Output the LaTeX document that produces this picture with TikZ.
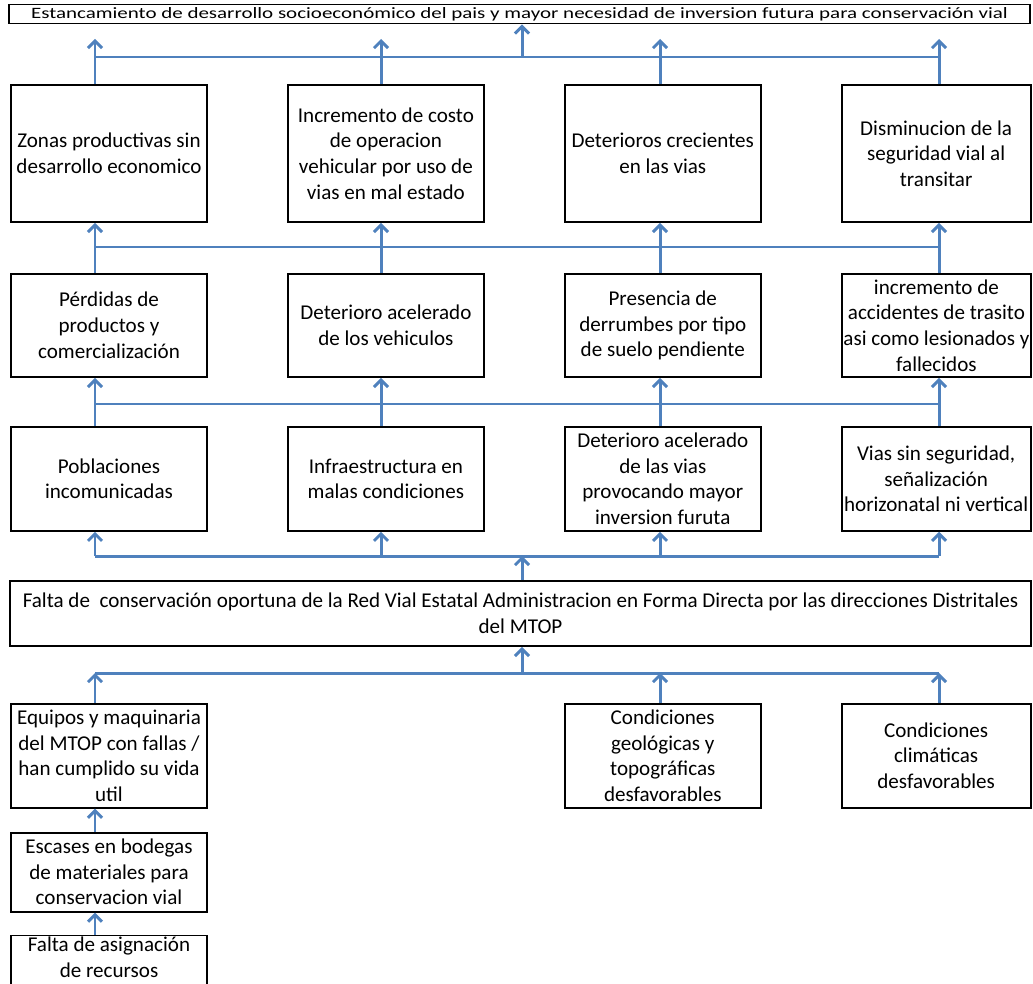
\documentclass[tikz,border=0pt]{standalone}
\usepackage{fontspec}
\usepackage{graphicx}
\setmainfont{Carlito}
\usetikzlibrary{positioning, arrows.meta}
\definecolor{azul}{RGB}{79,129,189}

\tikzset{
    caja/.style={draw, line width=1.1pt, align=center, inner sep=1pt,
        minimum width=3.92cm, font=\fontsize{12}{14.6}\selectfont},
    linea/.style={draw=azul, line width=1.7pt},
    flecha/.style={linea, -{Straight Barb[length=4pt,width=8pt]}}
}

\begin{document}
\begin{tikzpicture}[x=0.02cm, y=-0.02cm, node distance=1cm and 1.58cm]
    \clip (0,0) rectangle (1033,983);

    % efecto final
    \node[caja, minimum width=20.42cm, minimum height=0.38cm, inner sep=0pt,
        font=\fontsize{9}{10}\selectfont] (e) at (519.5,14)
        {\resizebox{19.54cm}{\height}{Estancamiento de desarrollo socioeconómico del pais y mayor necesidad de inversion futura para conservación vial}};

    % efectos
    \node[caja, minimum height=2.74cm] (z1) at (109,153.5) {Zonas productivas sin\\desarrollo economico};
    \node[caja, minimum height=2.74cm] (z2) [right=of z1] {Incremento de costo\\de operacion\\vehicular por uso de\\vias en mal estado};
    \node[caja, minimum height=2.74cm] (z3) [right=of z2] {Deterioros crecientes\\en las vias};
    \node[caja, minimum height=2.74cm, minimum width=3.78cm] (z4) [right=of z3] {Disminucion de la\\seguridad vial al\\transitar};

    \node[caja, minimum height=2.06cm] (p1) [below=of z1] {Pérdidas de\\productos y\\comercialización};
    \node[caja, minimum height=2.06cm] (p2) [right=of p1] {Deterioro acelerado\\de los vehiculos};
    \node[caja, minimum height=2.06cm] (p3) [right=of p2] {Presencia de\\derrumbes por tipo\\de suelo pendiente};
    \node[caja, minimum height=2.06cm, minimum width=3.78cm] (p4) [right=of p3] {incremento de\\accidentes de trasito\\asi como lesionados y\\fallecidos};

    \node[caja, minimum height=2.08cm] (q1) [below=0.96cm of p1] {Poblaciones\\incomunicadas};
    \node[caja, minimum height=2.08cm] (q2) [right=of q1] {Infraestructura en\\malas condiciones};
    \node[caja, minimum height=2.08cm] (q3) [right=of q2] {Deterioro acelerado\\de las vias\\provocando mayor\\inversion furuta};
    \node[caja, minimum height=2.08cm, minimum width=3.78cm] (q4) [right=of q3] {Vias sin seguridad,\\señalización\\horizonatal ni vertical};

    % problema central
    \node[caja, minimum width=20.42cm, minimum height=1.3cm] (f) at (520.5,613.5)
        {Falta de~ conservación oportuna de la Red Vial Estatal Administracion en Forma Directa por las direcciones Distritales\\del MTOP};

    % causas
    \node[caja, minimum height=2.08cm] (b1) [below=3.42cm of q1] {Equipos y maquinaria\\del MTOP con fallas /\\han cumplido su vida\\util};
    \node[caja, minimum height=2.08cm] (b3) [below=3.42cm of q3] {Condiciones\\geológicas y\\topográficas\\desfavorables};
    \node[caja, minimum height=2.08cm, minimum width=3.78cm] (b4) [below=3.42cm of q4] {Condiciones\\climáticas\\desfavorables};
    \node[caja, minimum height=1.58cm] (s1) [below=0.46cm of b1] {Escases en bodegas\\de materiales para\\conservacion vial};
    \node[caja, minimum height=1.2cm] (a1) [below=0.44cm of s1] {Falta de asignación\\de recursos\\[-5pt]\mbox{}};

    % ejes de las conexiones
    \coordinate (x1) at (95,0);
    \coordinate (x2) at (381,0);
    \coordinate (x3) at (660,0);
    \coordinate (x4) at (939,0);
    \coordinate (xm) at (522,0);
    \coordinate (yt) at (0,39);
    \coordinate (y0) at (0,57);
    \coordinate (y1) at (0,247);
    \coordinate (y2) at (0,404);
    \coordinate (y3) at (0,556);
    \coordinate (y4) at (0,673);

    \draw[linea] (x1 |- y0) -- (x4 |- y0);
    \draw[flecha] (xm |- y0) -- (e.south -| xm);
    \draw[flecha] (z1.north -| x1) -- (x1 |- yt);
    \draw[flecha] (z2.north -| x2) -- (x2 |- yt);
    \draw[flecha] (z3.north -| x3) -- (x3 |- yt);
    \draw[flecha] (z4.north -| x4) -- (x4 |- yt);

    \draw[linea] (x1 |- y1) -- (x4 |- y1);
    \draw[flecha] (p1.north -| x1) -- (z1.south -| x1);
    \draw[flecha] (p2.north -| x2) -- (z2.south -| x2);
    \draw[flecha] (p3.north -| x3) -- (z3.south -| x3);
    \draw[flecha] (p4.north -| x4) -- (z4.south -| x4);

    \draw[linea] (x1 |- y2) -- (x4 |- y2);
    \draw[flecha] (q1.north -| x1) -- (p1.south -| x1);
    \draw[flecha] (q2.north -| x2) -- (p2.south -| x2);
    \draw[flecha] (q3.north -| x3) -- (p3.south -| x3);
    \draw[flecha] (q4.north -| x4) -- (p4.south -| x4);

    \draw[linea] (x1 |- y3) -- (x4 |- y3);
    \draw[flecha] (x1 |- y3) -- (q1.south -| x1);
    \draw[flecha] (x2 |- y3) -- (q2.south -| x2);
    \draw[flecha] (x3 |- y3) -- (q3.south -| x3);
    \draw[flecha] (x4 |- y3) -- (q4.south -| x4);
    \draw[flecha] (f.north -| xm) -- (xm |- y3);

    \draw[linea] (x1 |- y4) -- (x4 |- y4);
    \draw[flecha] (xm |- y4) -- (f.south -| xm);
    \draw[flecha] (b1.north -| x1) -- (x1 |- y4);
    \draw[flecha] (b3.north -| x3) -- (x3 |- y4);
    \draw[flecha] (b4.north -| x4) -- (x4 |- y4);
    \draw[flecha] (s1.north -| x1) -- (b1.south -| x1);
    \draw[flecha] (a1.north -| x1) -- (s1.south -| x1);
\end{tikzpicture}
\end{document}
